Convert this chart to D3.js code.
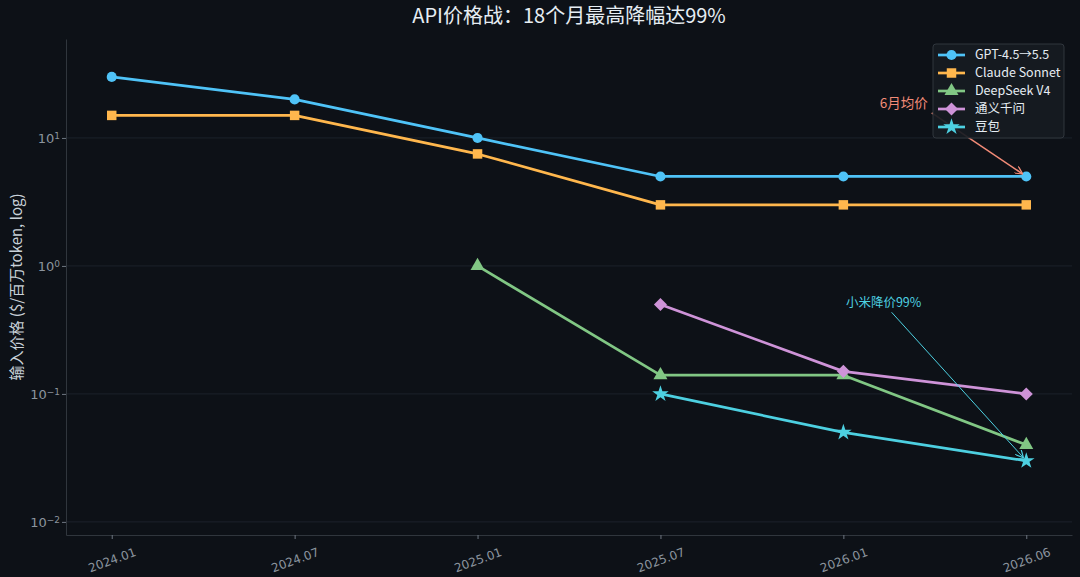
<!DOCTYPE html>
<html>
<head>
<meta charset="utf-8">
<script src="https://cdn.jsdelivr.net/npm/d3@7"></script>
<style>
  html, body { margin: 0; padding: 0; background: #0d1117; }
  svg { display: block; font-family: "Noto Sans CJK SC", "DejaVu Sans", sans-serif; }
</style>
</head>
<body>
<div id="chart"></div>
<script>
// data
const months = ["2024.01", "2024.07", "2025.01", "2025.07", "2026.01", "2026.06"];
const gpt = [30, 20, 10, 5, 5, 5];
const claude = [15, 15, 7.5, 3, 3, 3];
const deepseek = [null, null, 1, 0.14, 0.14, 0.04];
const qwen = [null, null, null, 0.5, 0.15, 0.1];
const doubao = [null, null, null, 0.1, 0.05, 0.03];
const yTicks = [0.01, 0.1, 1, 10];
const yExps = ["\u22122", "\u22121", "0", "1"];

const series = [
  { name: "GPT-4.5\u21925.5", values: gpt, color: "#4fc3f7", symbol: "circle" },
  { name: "Claude Sonnet", values: claude, color: "#ffb74d", symbol: "square" },
  { name: "DeepSeek V4", values: deepseek, color: "#81c784", symbol: "triangle" },
  { name: "通义千问", values: qwen, color: "#ce93d8", symbol: "diamond" },
  { name: "豆包", values: doubao, color: "#4dd0e1", symbol: "star" }
];

const notes = [
  { text: "6月均价", tx: 4.33, ty: 18.8, px: 5, py: 5, color: "#f28b77", width: 1.6, fs: 13.5 },
  { text: "小米降价99%", tx: 4.22, ty: 0.52, px: 5, py: 0.03, color: "#4dd0e1", width: 1, fs: 12.5 }
];

const size = { width: 1080, height: 577 };
const margin = { left: 66, right: 8, top: 39, bottom: 42 };
const width = size.width - margin.left - margin.right;
const height = size.height - margin.top - margin.bottom;

const x = d3.scaleLinear().domain([-0.25, months.length - 0.75]).range([0, width]);
const y = d3.scaleLog().domain([0.0079, 59.3]).range([height, 0]);

const symbolPath = (kind) => {
  if (kind === "circle") return d3.symbol(d3.symbolCircle, 80)();
  if (kind === "square") return d3.symbol(d3.symbolSquare, 90)();
  if (kind === "triangle") return d3.symbol(d3.symbolTriangle, 85)();
  if (kind === "diamond") return d3.symbol(d3.symbolSquare, 85)();
  return d3.symbol(d3.symbolStar, 85)();
};
const symbolRot = kind => (kind === "diamond" ? " rotate(45)" : "");

const svg = d3.select("#chart").append("svg")
  .attr("width", size.width)
  .attr("height", size.height);

svg.append("rect").attr("width", size.width).attr("height", size.height).attr("fill", "#0d1117");

svg.append("defs").selectAll("marker")
  .data(notes)
  .join("marker")
  .attr("id", (d, i) => "arrow" + i)
  .attr("viewBox", "0 0 10 10")
  .attr("refX", 9).attr("refY", 5)
  .attr("markerWidth", 8).attr("markerHeight", 8)
  .attr("markerUnits", "userSpaceOnUse")
  .attr("orient", "auto")
  .append("path")
  .attr("d", "M0,0 L10,5 L0,10")
  .attr("fill", "none")
  .attr("stroke", d => d.color)
  .attr("stroke-width", 1.5);

const g = svg.append("g").attr("transform", `translate(${margin.left},${margin.top})`);

// title
svg.append("text")
  .attr("x", margin.left + width / 2)
  .attr("y", 23)
  .attr("text-anchor", "middle")
  .attr("fill", "#e6edf3")
  .attr("font-size", 20)
  .text("API价格战：18个月最高降幅达99%");

// grid
g.append("g").selectAll("line")
  .data(yTicks)
  .join("line")
  .attr("x1", 0).attr("x2", width)
  .attr("y1", d => y(d)).attr("y2", d => y(d))
  .attr("stroke", "#1c222b")
  .attr("stroke-width", 1);

// axes
const yAxis = g.append("g")
  .call(d3.axisLeft(y).tickValues(yTicks).tickSize(4).tickSizeOuter(0).tickFormat(""));
yAxis.selectAll(".tick").append("text")
  .attr("x", -6).attr("dy", "0.35em")
  .attr("text-anchor", "end")
  .attr("fill", "#8b949e")
  .attr("font-size", 13)
  .attr("font-family", "DejaVu Sans")
  .each(function (d, i) {
    const t = d3.select(this);
    t.append("tspan").text("10");
    t.append("tspan").attr("dy", "-0.45em").attr("font-size", 9).text(yExps[i]);
  });

const xAxis = g.append("g")
  .attr("transform", `translate(0,${height})`)
  .call(d3.axisBottom(x).tickValues(d3.range(months.length)).tickSize(4).tickSizeOuter(0).tickFormat(i => months[i]));
xAxis.selectAll(".tick text")
  .attr("fill", "#8b949e")
  .attr("font-size", 12)
  .attr("font-family", "DejaVu Sans")
  .attr("text-anchor", "middle")
  .attr("dy", "0.35em")
  .attr("y", 0)
  .attr("transform", "translate(0,25) rotate(-20)");

[yAxis, xAxis].forEach(a => {
  a.select(".domain").attr("stroke", "#30363d");
  a.selectAll(".tick line").attr("stroke", "#6e7681");
});

g.append("text")
  .attr("transform", "rotate(-90)")
  .attr("x", -height / 2)
  .attr("y", -44)
  .attr("text-anchor", "middle")
  .attr("fill", "#c9d1d9")
  .attr("font-size", 15)
  .text("输入价格 ($/百万token, log)");

// lines and markers
const line = d3.line()
  .defined(d => d != null)
  .x((d, i) => x(i))
  .y(d => y(d));

series.forEach(s => {
  const pts = s.values.map((v, i) => ({ v, i })).filter(p => p.v != null);
  g.append("path")
    .datum(s.values)
    .attr("d", line)
    .attr("fill", "none")
    .attr("stroke", s.color)
    .attr("stroke-width", 2.7)
    .attr("stroke-linejoin", "round");
  g.append("g").selectAll("path")
    .data(pts)
    .join("path")
    .attr("d", symbolPath(s.symbol))
    .attr("transform", p => `translate(${x(p.i)},${y(p.v)})${symbolRot(s.symbol)}`)
    .attr("fill", s.color);
});

// annotations
notes.forEach((n, i) => {
  const tx = x(n.tx), ty = y(n.ty);
  const px = x(n.px), py = y(n.py);
  const sx = tx + (n.text.length > 5 ? 8 : 28), sy = ty + 10;
  const ang = Math.atan2(py - sy, px - sx);
  const ex = px - Math.cos(ang) * 5, ey = py - Math.sin(ang) * 5;
  g.append("line")
    .attr("x1", sx).attr("y1", sy)
    .attr("x2", ex).attr("y2", ey)
    .attr("stroke", n.color)
    .attr("stroke-width", n.width)
    .attr("marker-end", `url(#arrow${i})`);
  g.append("text")
    .attr("x", tx).attr("y", ty)
    .attr("dy", "0.35em")
    .attr("text-anchor", "middle")
    .attr("fill", n.color)
    .attr("font-size", n.fs)
    .text(n.text);
});

// legend
const legend = svg.append("g").attr("transform", "translate(933,44)");
legend.append("rect")
  .attr("width", 131).attr("height", 94)
  .attr("rx", 3)
  .attr("fill", "#161b22").attr("fill-opacity", 0.92)
  .attr("stroke", "#30363d");
const items = legend.selectAll("g.item")
  .data(series)
  .join("g")
  .attr("class", "item")
  .attr("transform", (d, i) => `translate(0,${11 + i * 18})`);
items.append("line")
  .attr("x1", 5).attr("x2", 32)
  .attr("stroke", d => d.color)
  .attr("stroke-width", 2.7);
items.append("path")
  .attr("d", d => symbolPath(d.symbol))
  .attr("transform", d => `translate(18.5,0)${symbolRot(d.symbol)}`)
  .attr("fill", d => d.color);
items.append("text")
  .attr("x", 42).attr("dy", "0.35em")
  .attr("fill", "#e6edf3")
  .attr("font-size", 12.5)
  .text(d => d.name);
</script>
</body>
</html>
